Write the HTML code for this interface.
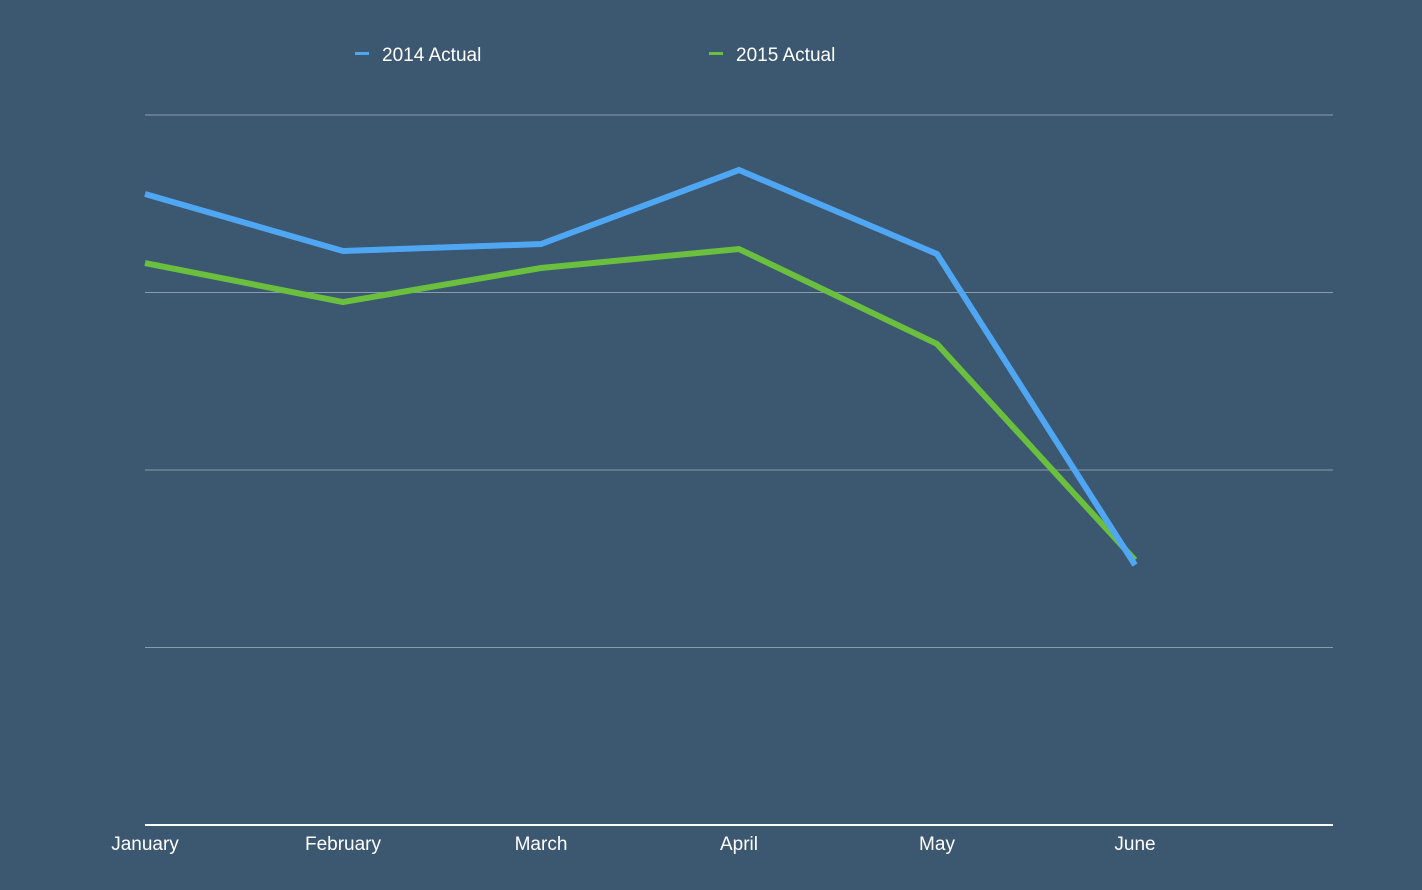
<!DOCTYPE html>
<html><head><meta charset="utf-8"><style>
html,body{margin:0;padding:0;background:#3c5770;}
svg{display:block;font-family:"Liberation Sans",sans-serif;}
</style></head><body>
<svg id="chart" width="1422" height="890" viewBox="0 0 1422 890">
<rect width="1422" height="890" fill="#3c5770"/>
<g>
<g><rect x="355" y="52" width="14" height="3" fill="#4fa6f3"/><text x="382" y="61" fill="#fff" font-size="19">2014 Actual</text></g>
<g><rect x="709" y="52" width="14" height="3" fill="#6abf3f"/><text x="736" y="61" fill="#fff" font-size="19">2015 Actual</text></g>
</g>
</svg>
<script>
const categories=["January","February","March","April","May","June"];
const series2014=[3.555,3.234,3.273,3.69,3.217,1.465];
const series2015=[3.166,2.946,3.138,3.245,2.71,1.493];
const yTicks=[1,2,3,4];
const svg=document.getElementById('chart');
const NS='http://www.w3.org/2000/svg';
const x0=145,x1=1333,step=198,yBase=825,yTop=115,yMax=4;
const xs=i=>x0+i*step;
const ys=v=>yBase-(v/yMax)*(yBase-yTop);
function mk(t,a){const e=document.createElementNS(NS,t);for(const k in a)e.setAttribute(k,a[k]);svg.appendChild(e);return e;}
yTicks.forEach(t=>{const l=mk('line',{x1:x0,x2:x1,y1:ys(t),y2:ys(t),stroke:'#8a9bab','stroke-width':1});

});
const ax=mk('line',{x1:x0,x2:x1,y1:yBase,y2:yBase,stroke:'#ffffff','stroke-width':2});


categories.forEach((c,i)=>{const t=mk('text',{x:xs(i),y:850,fill:'#fff','font-size':19,'text-anchor':'middle'});t.textContent=c;

});
function line(vals,color,name){const p=mk('polyline',{points:vals.map((v,i)=>xs(i)+','+ys(v)).join(' '),fill:'none',stroke:color,'stroke-width':6,'stroke-linejoin':'miter'});

}
line(series2015,'#6abf3f','series-2015-line');
line(series2014,'#4fa6f3','series-2014-line');
</script>
</body></html>
